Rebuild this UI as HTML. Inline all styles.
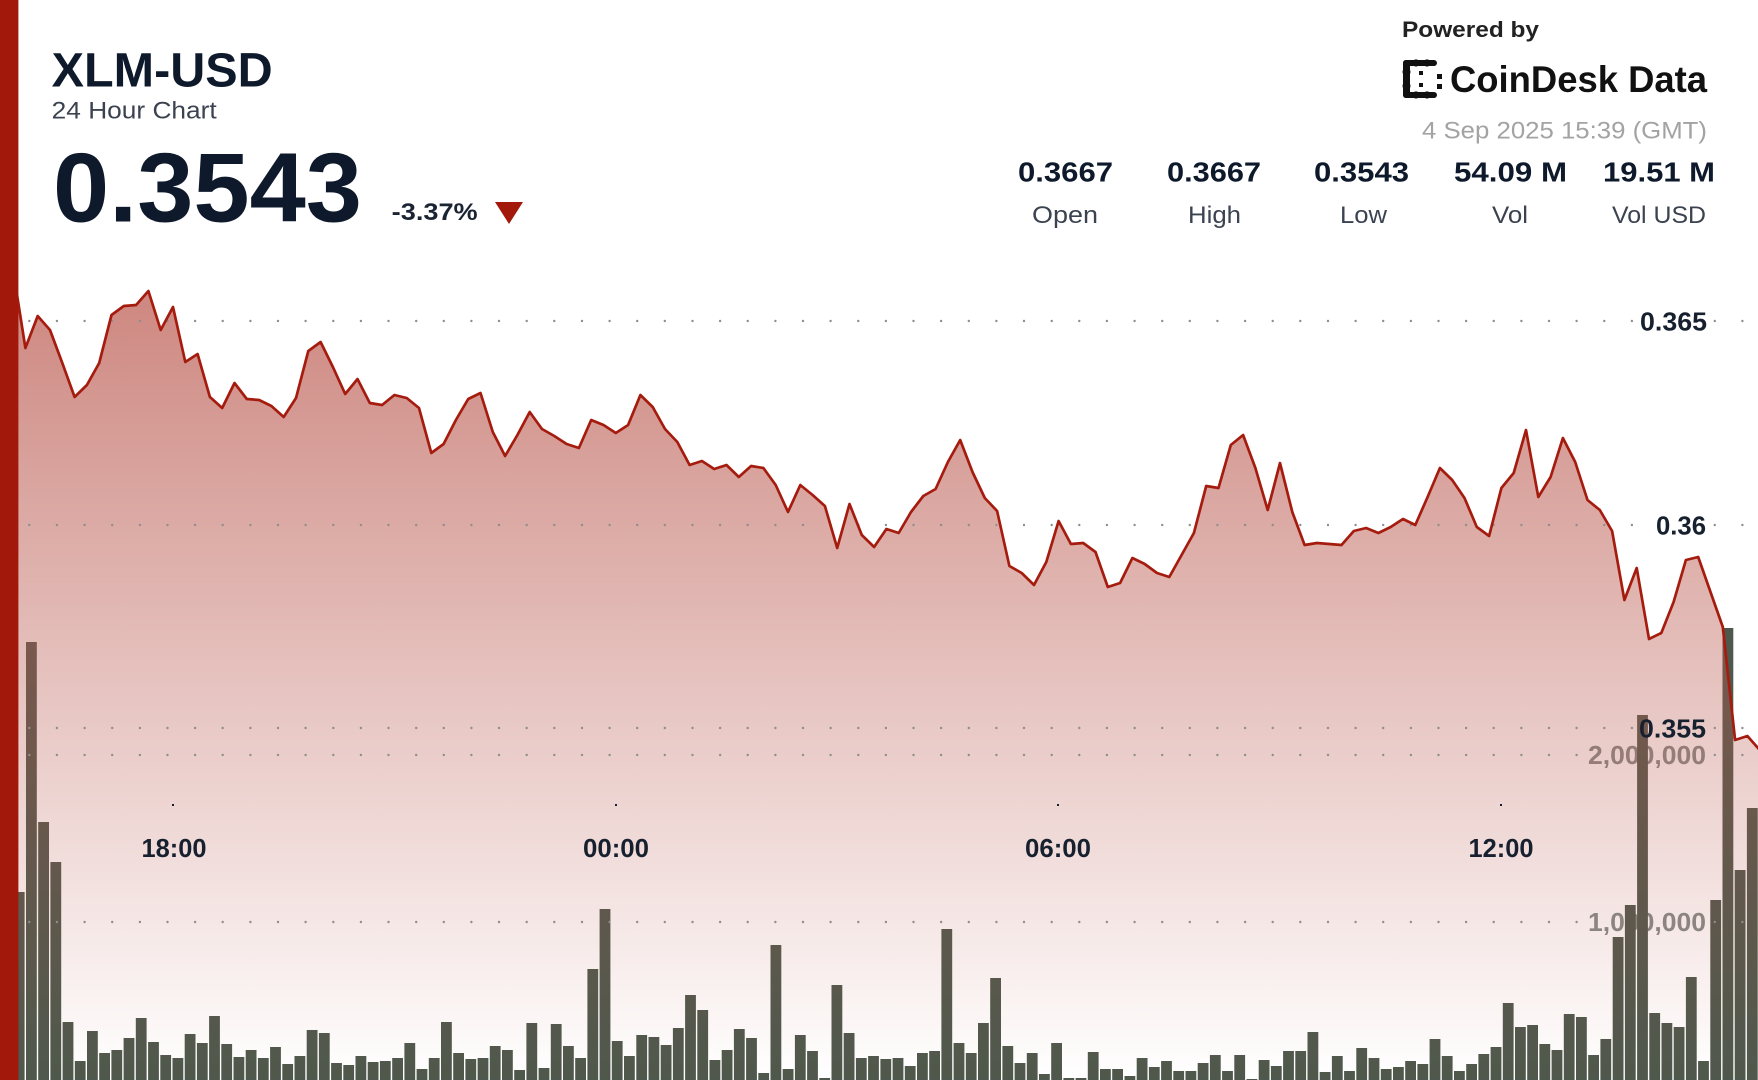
<!DOCTYPE html>
<html>
<head>
<meta charset="utf-8">
<style>
html,body{margin:0;padding:0;background:#fff;}
body{width:1758px;height:1080px;overflow:hidden;}
svg{display:block;}
text{font-family:"Liberation Sans",Arial,sans-serif;}
</style>
</head>
<body>
<svg width="1758" height="1080" viewBox="0 0 1758 1080" xmlns="http://www.w3.org/2000/svg">
<defs>
<linearGradient id="ag" gradientUnits="userSpaceOnUse" x1="0" y1="289" x2="0" y2="1080">
<stop offset="0" stop-color="rgb(186,88,78)" stop-opacity="0.72"/>
<stop offset="1" stop-color="rgb(186,88,78)" stop-opacity="0"/>
</linearGradient>
<g id="dotsA">
<circle cx="1.7" cy="0" r="1.2"/><circle cx="29.3" cy="0" r="1.2"/><circle cx="56.9" cy="0" r="1.2"/><circle cx="84.6" cy="0" r="1.2"/><circle cx="112.2" cy="0" r="1.2"/><circle cx="139.9" cy="0" r="1.2"/><circle cx="167.5" cy="0" r="1.2"/><circle cx="195.1" cy="0" r="1.2"/><circle cx="222.7" cy="0" r="1.2"/><circle cx="250.4" cy="0" r="1.2"/><circle cx="278.0" cy="0" r="1.2"/><circle cx="305.6" cy="0" r="1.2"/><circle cx="333.3" cy="0" r="1.2"/><circle cx="360.9" cy="0" r="1.2"/><circle cx="388.5" cy="0" r="1.2"/><circle cx="416.2" cy="0" r="1.2"/><circle cx="443.8" cy="0" r="1.2"/><circle cx="471.4" cy="0" r="1.2"/><circle cx="499.0" cy="0" r="1.2"/><circle cx="526.7" cy="0" r="1.2"/><circle cx="554.3" cy="0" r="1.2"/><circle cx="582.0" cy="0" r="1.2"/><circle cx="609.6" cy="0" r="1.2"/><circle cx="637.2" cy="0" r="1.2"/><circle cx="664.8" cy="0" r="1.2"/><circle cx="692.5" cy="0" r="1.2"/><circle cx="720.1" cy="0" r="1.2"/><circle cx="747.7" cy="0" r="1.2"/><circle cx="775.4" cy="0" r="1.2"/><circle cx="803.0" cy="0" r="1.2"/><circle cx="830.6" cy="0" r="1.2"/><circle cx="858.3" cy="0" r="1.2"/><circle cx="885.9" cy="0" r="1.2"/><circle cx="913.5" cy="0" r="1.2"/><circle cx="941.1" cy="0" r="1.2"/><circle cx="968.8" cy="0" r="1.2"/><circle cx="996.4" cy="0" r="1.2"/><circle cx="1024.0" cy="0" r="1.2"/><circle cx="1051.7" cy="0" r="1.2"/><circle cx="1079.3" cy="0" r="1.2"/><circle cx="1106.9" cy="0" r="1.2"/><circle cx="1134.6" cy="0" r="1.2"/><circle cx="1162.2" cy="0" r="1.2"/><circle cx="1189.8" cy="0" r="1.2"/><circle cx="1217.4" cy="0" r="1.2"/><circle cx="1245.1" cy="0" r="1.2"/><circle cx="1272.7" cy="0" r="1.2"/><circle cx="1300.3" cy="0" r="1.2"/><circle cx="1328.0" cy="0" r="1.2"/><circle cx="1355.6" cy="0" r="1.2"/><circle cx="1383.2" cy="0" r="1.2"/><circle cx="1410.9" cy="0" r="1.2"/><circle cx="1438.5" cy="0" r="1.2"/><circle cx="1466.1" cy="0" r="1.2"/><circle cx="1493.7" cy="0" r="1.2"/><circle cx="1521.4" cy="0" r="1.2"/><circle cx="1549.0" cy="0" r="1.2"/><circle cx="1576.6" cy="0" r="1.2"/>
</g>
</defs>
<rect x="0" y="0" width="1758" height="1080" fill="#fff"/>

<g font-size="26" font-weight="bold" fill="#848c88" text-anchor="end">
<text x="1706" y="764" textLength="118" lengthAdjust="spacingAndGlyphs">2,000,000</text>
<text x="1706" y="931" textLength="118" lengthAdjust="spacingAndGlyphs">1,000,000</text>
</g>

<g fill="#4f584c">
<rect x="13.8" y="892" width="10.8" height="188"/>
<rect x="26.0" y="642" width="10.8" height="438"/>
<rect x="38.2" y="822" width="10.8" height="258"/>
<rect x="50.4" y="862" width="10.8" height="218"/>
<rect x="62.6" y="1022" width="10.8" height="58"/>
<rect x="74.8" y="1061" width="10.8" height="19"/>
<rect x="87.0" y="1031" width="10.8" height="49"/>
<rect x="99.2" y="1053" width="10.8" height="27"/>
<rect x="111.4" y="1050" width="10.8" height="30"/>
<rect x="123.6" y="1038" width="10.8" height="42"/>
<rect x="135.8" y="1018" width="10.8" height="62"/>
<rect x="148.1" y="1042" width="10.8" height="38"/>
<rect x="160.3" y="1055" width="10.8" height="25"/>
<rect x="172.5" y="1058" width="10.8" height="22"/>
<rect x="184.7" y="1034" width="10.8" height="46"/>
<rect x="196.9" y="1043" width="10.8" height="37"/>
<rect x="209.1" y="1016" width="10.8" height="64"/>
<rect x="221.3" y="1044" width="10.8" height="36"/>
<rect x="233.5" y="1057" width="10.8" height="23"/>
<rect x="245.7" y="1050" width="10.8" height="30"/>
<rect x="257.9" y="1058" width="10.8" height="22"/>
<rect x="270.1" y="1047" width="10.8" height="33"/>
<rect x="282.3" y="1064" width="10.8" height="16"/>
<rect x="294.5" y="1056" width="10.8" height="24"/>
<rect x="306.7" y="1030" width="10.8" height="50"/>
<rect x="318.9" y="1033" width="10.8" height="47"/>
<rect x="331.1" y="1063" width="10.8" height="17"/>
<rect x="343.3" y="1065" width="10.8" height="15"/>
<rect x="355.5" y="1056" width="10.8" height="24"/>
<rect x="367.7" y="1062" width="10.8" height="18"/>
<rect x="379.9" y="1061" width="10.8" height="19"/>
<rect x="392.2" y="1058" width="10.8" height="22"/>
<rect x="404.4" y="1043" width="10.8" height="37"/>
<rect x="416.6" y="1069" width="10.8" height="11"/>
<rect x="428.8" y="1058" width="10.8" height="22"/>
<rect x="441.0" y="1022" width="10.8" height="58"/>
<rect x="453.2" y="1053" width="10.8" height="27"/>
<rect x="465.4" y="1059" width="10.8" height="21"/>
<rect x="477.6" y="1058" width="10.8" height="22"/>
<rect x="489.8" y="1046" width="10.8" height="34"/>
<rect x="502.0" y="1050" width="10.8" height="30"/>
<rect x="514.2" y="1070" width="10.8" height="10"/>
<rect x="526.4" y="1023" width="10.8" height="57"/>
<rect x="538.6" y="1068" width="10.8" height="12"/>
<rect x="550.8" y="1024" width="10.8" height="56"/>
<rect x="563.0" y="1046" width="10.8" height="34"/>
<rect x="575.2" y="1058" width="10.8" height="22"/>
<rect x="587.4" y="969" width="10.8" height="111"/>
<rect x="599.6" y="909" width="10.8" height="171"/>
<rect x="611.8" y="1041" width="10.8" height="39"/>
<rect x="624.0" y="1056" width="10.8" height="24"/>
<rect x="636.3" y="1035" width="10.8" height="45"/>
<rect x="648.5" y="1037" width="10.8" height="43"/>
<rect x="660.7" y="1045" width="10.8" height="35"/>
<rect x="672.9" y="1028" width="10.8" height="52"/>
<rect x="685.1" y="995" width="10.8" height="85"/>
<rect x="697.3" y="1010" width="10.8" height="70"/>
<rect x="709.5" y="1060" width="10.8" height="20"/>
<rect x="721.7" y="1050" width="10.8" height="30"/>
<rect x="733.9" y="1029" width="10.8" height="51"/>
<rect x="746.1" y="1038" width="10.8" height="42"/>
<rect x="758.3" y="1073" width="10.8" height="7"/>
<rect x="770.5" y="945" width="10.8" height="135"/>
<rect x="782.7" y="1069" width="10.8" height="11"/>
<rect x="794.9" y="1035" width="10.8" height="45"/>
<rect x="807.1" y="1051" width="10.8" height="29"/>
<rect x="819.3" y="1078" width="10.8" height="2"/>
<rect x="831.5" y="985" width="10.8" height="95"/>
<rect x="843.7" y="1033" width="10.8" height="47"/>
<rect x="855.9" y="1058" width="10.8" height="22"/>
<rect x="868.1" y="1056" width="10.8" height="24"/>
<rect x="880.4" y="1059" width="10.8" height="21"/>
<rect x="892.6" y="1058" width="10.8" height="22"/>
<rect x="904.8" y="1066" width="10.8" height="14"/>
<rect x="917.0" y="1053" width="10.8" height="27"/>
<rect x="929.2" y="1051" width="10.8" height="29"/>
<rect x="941.4" y="929" width="10.8" height="151"/>
<rect x="953.6" y="1043" width="10.8" height="37"/>
<rect x="965.8" y="1053" width="10.8" height="27"/>
<rect x="978.0" y="1023" width="10.8" height="57"/>
<rect x="990.2" y="978" width="10.8" height="102"/>
<rect x="1002.4" y="1046" width="10.8" height="34"/>
<rect x="1014.6" y="1063" width="10.8" height="17"/>
<rect x="1026.8" y="1053" width="10.8" height="27"/>
<rect x="1039.0" y="1074" width="10.8" height="6"/>
<rect x="1051.2" y="1043" width="10.8" height="37"/>
<rect x="1063.4" y="1078" width="10.8" height="2"/>
<rect x="1075.6" y="1078" width="10.8" height="2"/>
<rect x="1087.8" y="1052" width="10.8" height="28"/>
<rect x="1100.0" y="1069" width="10.8" height="11"/>
<rect x="1112.2" y="1069" width="10.8" height="11"/>
<rect x="1124.5" y="1076" width="10.8" height="4"/>
<rect x="1136.7" y="1058" width="10.8" height="22"/>
<rect x="1148.9" y="1067" width="10.8" height="13"/>
<rect x="1161.1" y="1061" width="10.8" height="19"/>
<rect x="1173.3" y="1071" width="10.8" height="9"/>
<rect x="1185.5" y="1071" width="10.8" height="9"/>
<rect x="1197.7" y="1063" width="10.8" height="17"/>
<rect x="1209.9" y="1055" width="10.8" height="25"/>
<rect x="1222.1" y="1071" width="10.8" height="9"/>
<rect x="1234.3" y="1055" width="10.8" height="25"/>
<rect x="1246.5" y="1079" width="10.8" height="1"/>
<rect x="1258.7" y="1060" width="10.8" height="20"/>
<rect x="1270.9" y="1066" width="10.8" height="14"/>
<rect x="1283.1" y="1051" width="10.8" height="29"/>
<rect x="1295.3" y="1051" width="10.8" height="29"/>
<rect x="1307.5" y="1032" width="10.8" height="48"/>
<rect x="1319.7" y="1072" width="10.8" height="8"/>
<rect x="1331.9" y="1056" width="10.8" height="24"/>
<rect x="1344.1" y="1071" width="10.8" height="9"/>
<rect x="1356.3" y="1048" width="10.8" height="32"/>
<rect x="1368.6" y="1058" width="10.8" height="22"/>
<rect x="1380.8" y="1069" width="10.8" height="11"/>
<rect x="1393.0" y="1067" width="10.8" height="13"/>
<rect x="1405.2" y="1061" width="10.8" height="19"/>
<rect x="1417.4" y="1064" width="10.8" height="16"/>
<rect x="1429.6" y="1039" width="10.8" height="41"/>
<rect x="1441.8" y="1056" width="10.8" height="24"/>
<rect x="1454.0" y="1071" width="10.8" height="9"/>
<rect x="1466.2" y="1064" width="10.8" height="16"/>
<rect x="1478.4" y="1054" width="10.8" height="26"/>
<rect x="1490.6" y="1047" width="10.8" height="33"/>
<rect x="1502.8" y="1003" width="10.8" height="77"/>
<rect x="1515.0" y="1027" width="10.8" height="53"/>
<rect x="1527.2" y="1025" width="10.8" height="55"/>
<rect x="1539.4" y="1044" width="10.8" height="36"/>
<rect x="1551.6" y="1050" width="10.8" height="30"/>
<rect x="1563.8" y="1014" width="10.8" height="66"/>
<rect x="1576.0" y="1017" width="10.8" height="63"/>
<rect x="1588.2" y="1055" width="10.8" height="25"/>
<rect x="1600.4" y="1039" width="10.8" height="41"/>
<rect x="1612.7" y="937" width="10.8" height="143"/>
<rect x="1624.9" y="905" width="10.8" height="175"/>
<rect x="1637.1" y="715" width="10.8" height="365"/>
<rect x="1649.3" y="1013" width="10.8" height="67"/>
<rect x="1661.5" y="1023" width="10.8" height="57"/>
<rect x="1673.7" y="1027" width="10.8" height="53"/>
<rect x="1685.9" y="977" width="10.8" height="103"/>
<rect x="1698.1" y="1061" width="10.8" height="19"/>
<rect x="1710.3" y="900" width="10.8" height="180"/>
<rect x="1722.5" y="628" width="10.8" height="452"/>
<rect x="1734.7" y="870" width="10.8" height="210"/>
<rect x="1746.9" y="808" width="10.8" height="272"/>
</g>

<path fill="url(#ag)" d="M0.8,285 L13.1,270 25.4,348 37.7,316 50,330 62.3,363 74.6,397 86.9,385 99.2,363 111.5,315 123.8,306 136.1,305 148.4,291 160.7,330 173,307 185.3,362 197.6,354 209.9,397 222.2,408 234.5,383 246.8,399 259.1,400 271.4,406 283.7,417 296,398 308.3,351 320.6,342 332.9,367 345.2,394 357.5,379 369.8,403 382.1,405 394.4,395 406.7,398 419,408 431.3,453 443.6,444 455.9,420 468.2,399 480.5,393 492.8,432 505.1,456 517.4,435 529.7,412 542,429 554.3,436 566.6,444 578.9,448 591.2,420 603.5,425 615.8,433 628.1,425 640.4,395 652.7,407 665,429 677.3,442 689.6,465 701.9,461 714.2,469 726.5,465 738.8,477 751.1,466 763.4,468 775.7,485 788,512 800.3,485 812.6,495 824.9,506 837.2,548 849.5,504 861.8,535 874.1,547 886.4,529 898.7,533 911,512 923.3,496 935.6,489 947.9,462 960.2,440 972.5,472 984.8,498 997.1,511 1009.4,566 1021.7,573 1034,585 1046.3,562 1058.6,521 1070.9,544 1083.2,543 1095.5,552 1107.8,587 1120.1,583 1132.4,558 1144.7,564 1157,573 1169.3,577 1181.6,555 1193.9,533 1206.2,486 1218.5,488 1230.8,445 1243.1,435 1255.4,468 1267.7,510 1280,463 1292.3,512 1304.6,545 1316.9,543 1329.2,544 1341.5,545 1353.8,531 1366.1,528 1378.4,533 1390.7,527 1403,519 1415.3,525 1427.6,497 1439.9,468 1452.2,480 1464.5,498 1476.8,527 1489.1,536 1501.4,488 1513.7,473 1526,430 1538.3,497 1550.6,477 1562.9,438 1575.2,462 1587.5,500 1599.8,510 1612.1,531 1624.4,600 1636.7,568 1649,639 1661.3,633 1673.6,602 1685.9,560 1698.2,557 1710.5,592 1722.8,627 1735.1,740 1747.4,736 1759.7,750 L1760,1080 L0,1080 Z"/>

<g fill="#8e8e8e">
<use href="#dotsA" y="321"/>
<use href="#dotsA" y="525"/>
<use href="#dotsA" y="728"/>
<use href="#dotsA" y="755"/>
<use href="#dotsA" y="922"/>
<circle cx="1604.3" cy="321" r="1.2"/><circle cx="1631.9" cy="321" r="1.2"/><circle cx="1714.8" cy="321" r="1.2"/><circle cx="1742.4" cy="321" r="1.2"/>
<circle cx="1604.3" cy="525" r="1.2"/><circle cx="1631.9" cy="525" r="1.2"/><circle cx="1714.8" cy="525" r="1.2"/><circle cx="1742.4" cy="525" r="1.2"/>
<circle cx="1604.3" cy="728" r="1.2"/><circle cx="1631.9" cy="728" r="1.2"/><circle cx="1714.8" cy="728" r="1.2"/><circle cx="1742.4" cy="728" r="1.2"/>
<circle cx="1714.8" cy="755" r="1.2"/><circle cx="1742.4" cy="755" r="1.2"/>
<circle cx="1714.8" cy="922" r="1.2"/><circle cx="1742.4" cy="922" r="1.2"/>
</g>

<polyline fill="none" stroke="#a51c0f" stroke-width="2.7" stroke-linejoin="round" points="0.8,285 13.1,270 25.4,348 37.7,316 50,330 62.3,363 74.6,397 86.9,385 99.2,363 111.5,315 123.8,306 136.1,305 148.4,291 160.7,330 173,307 185.3,362 197.6,354 209.9,397 222.2,408 234.5,383 246.8,399 259.1,400 271.4,406 283.7,417 296,398 308.3,351 320.6,342 332.9,367 345.2,394 357.5,379 369.8,403 382.1,405 394.4,395 406.7,398 419,408 431.3,453 443.6,444 455.9,420 468.2,399 480.5,393 492.8,432 505.1,456 517.4,435 529.7,412 542,429 554.3,436 566.6,444 578.9,448 591.2,420 603.5,425 615.8,433 628.1,425 640.4,395 652.7,407 665,429 677.3,442 689.6,465 701.9,461 714.2,469 726.5,465 738.8,477 751.1,466 763.4,468 775.7,485 788,512 800.3,485 812.6,495 824.9,506 837.2,548 849.5,504 861.8,535 874.1,547 886.4,529 898.7,533 911,512 923.3,496 935.6,489 947.9,462 960.2,440 972.5,472 984.8,498 997.1,511 1009.4,566 1021.7,573 1034,585 1046.3,562 1058.6,521 1070.9,544 1083.2,543 1095.5,552 1107.8,587 1120.1,583 1132.4,558 1144.7,564 1157,573 1169.3,577 1181.6,555 1193.9,533 1206.2,486 1218.5,488 1230.8,445 1243.1,435 1255.4,468 1267.7,510 1280,463 1292.3,512 1304.6,545 1316.9,543 1329.2,544 1341.5,545 1353.8,531 1366.1,528 1378.4,533 1390.7,527 1403,519 1415.3,525 1427.6,497 1439.9,468 1452.2,480 1464.5,498 1476.8,527 1489.1,536 1501.4,488 1513.7,473 1526,430 1538.3,497 1550.6,477 1562.9,438 1575.2,462 1587.5,500 1599.8,510 1612.1,531 1624.4,600 1636.7,568 1649,639 1661.3,633 1673.6,602 1685.9,560 1698.2,557 1710.5,592 1722.8,627 1735.1,740 1747.4,736 1759.7,750"/>

<g font-size="26" font-weight="bold" fill="#17202e" text-anchor="end">
<text x="1707" y="330.5" textLength="67" lengthAdjust="spacingAndGlyphs">0.365</text>
<text x="1706" y="534.5" textLength="50" lengthAdjust="spacingAndGlyphs">0.36</text>
<text x="1706" y="737.5" textLength="67" lengthAdjust="spacingAndGlyphs">0.355</text>
</g>

<g fill="#17202e">
<rect x="172" y="804" width="2" height="2"/>
<rect x="615" y="804" width="2" height="2"/>
<rect x="1057" y="804" width="2" height="2"/>
<rect x="1500" y="804" width="2" height="2"/>
</g>
<g font-size="26" font-weight="bold" fill="#17202e" text-anchor="middle">
<text x="174" y="857" textLength="65" lengthAdjust="spacingAndGlyphs">18:00</text>
<text x="616" y="857" textLength="66" lengthAdjust="spacingAndGlyphs">00:00</text>
<text x="1058" y="857" textLength="66" lengthAdjust="spacingAndGlyphs">06:00</text>
<text x="1501" y="857" textLength="65" lengthAdjust="spacingAndGlyphs">12:00</text>
</g>

<rect x="0" y="0" width="18.4" height="1080" fill="#a2190c"/>

<text x="51.7" y="86.7" font-size="48" font-weight="bold" fill="#0e1a2b" textLength="221" lengthAdjust="spacingAndGlyphs">XLM-USD</text>
<text x="51.7" y="118.5" font-size="24" fill="#3b4350" textLength="165" lengthAdjust="spacingAndGlyphs">24 Hour Chart</text>
<text x="53" y="221.7" font-size="98" font-weight="bold" fill="#0e1a2b" textLength="309" lengthAdjust="spacingAndGlyphs">0.3543</text>
<text x="391.7" y="220" font-size="24" font-weight="bold" fill="#1b2433" textLength="86" lengthAdjust="spacingAndGlyphs">-3.37%</text>
<polygon points="495,202 523,202 509,224" fill="#a2190c"/>

<text x="1402" y="37" font-size="22" font-weight="bold" fill="#222" textLength="137" lengthAdjust="spacingAndGlyphs">Powered by</text>
<g fill="#111">
<rect x="1403" y="60" width="34" height="6" rx="3"/>
<rect x="1403" y="92" width="34" height="6" rx="3"/>
<rect x="1403" y="60" width="7" height="38" rx="3"/>
<circle cx="1406.5" cy="72" r="4"/>
<circle cx="1406.5" cy="86" r="4"/>
<circle cx="1416" cy="63" r="3.6"/>
<circle cx="1427" cy="63" r="3.6"/>
<circle cx="1416" cy="95" r="3.6"/>
<circle cx="1427" cy="95" r="3.6"/>
<rect x="1419" y="71" width="4" height="4"/>
<rect x="1419" y="83" width="4" height="4"/>
<rect x="1437" y="74" width="5" height="5"/>
<rect x="1437" y="84" width="5" height="5"/>
</g>
<text x="1450" y="92" font-size="37" font-weight="bold" fill="#111" textLength="257" lengthAdjust="spacingAndGlyphs">CoinDesk Data</text>
<text x="1422" y="138.5" font-size="24.5" fill="#a3a3a3" textLength="285" lengthAdjust="spacingAndGlyphs">4 Sep 2025 15:39 (GMT)</text>

<g font-size="28" font-weight="bold" fill="#0e1a2b" text-anchor="middle">
<text x="1065.5" y="181.5" textLength="95" lengthAdjust="spacingAndGlyphs">0.3667</text>
<text x="1214" y="181.5" textLength="94" lengthAdjust="spacingAndGlyphs">0.3667</text>
<text x="1361.5" y="181.5" textLength="95" lengthAdjust="spacingAndGlyphs">0.3543</text>
<text x="1510.5" y="181.5" textLength="113" lengthAdjust="spacingAndGlyphs">54.09 M</text>
<text x="1659" y="181.5" textLength="112" lengthAdjust="spacingAndGlyphs">19.51 M</text>
</g>
<g font-size="24" fill="#3b4350" text-anchor="middle">
<text x="1065" y="223" textLength="66" lengthAdjust="spacingAndGlyphs">Open</text>
<text x="1214.5" y="223" textLength="53" lengthAdjust="spacingAndGlyphs">High</text>
<text x="1363.5" y="223" textLength="47" lengthAdjust="spacingAndGlyphs">Low</text>
<text x="1510" y="223" textLength="36" lengthAdjust="spacingAndGlyphs">Vol</text>
<text x="1659" y="223" textLength="94" lengthAdjust="spacingAndGlyphs">Vol USD</text>
</g>
</svg>
</body>
</html>
